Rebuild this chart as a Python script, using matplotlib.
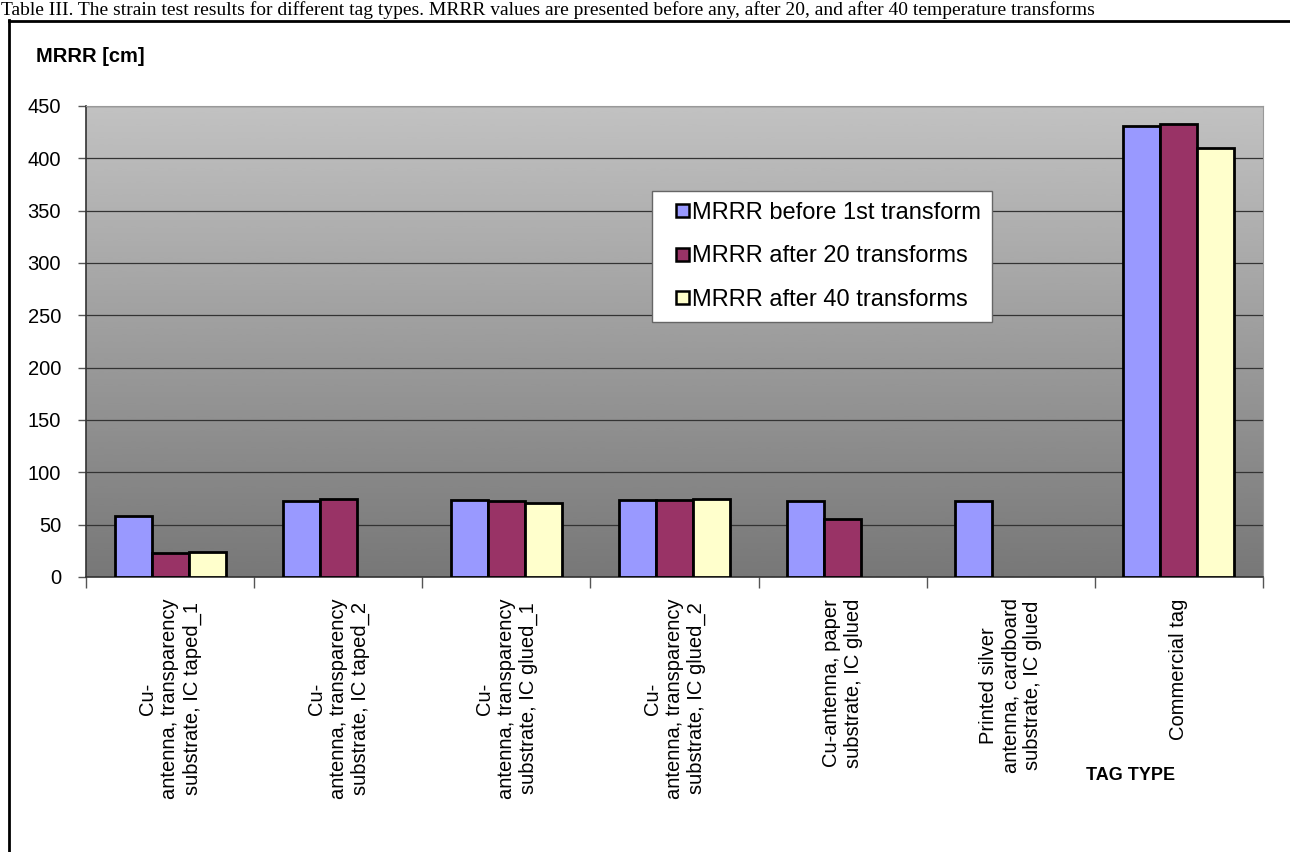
import numpy as np
import matplotlib
matplotlib.use("Agg")
import matplotlib.pyplot as plt
from matplotlib.lines import Line2D
from matplotlib.patches import Patch, Rectangle
from matplotlib.legend_handler import HandlerPatch

categories = [
    "Cu-\nantenna, transparency\nsubstrate, IC taped_1",
    "Cu-\nantenna, transparency\nsubstrate, IC taped_2",
    "Cu-\nantenna, transparency\nsubstrate, IC glued_1",
    "Cu-\nantenna, transparency\nsubstrate, IC glued_2",
    "Cu-antenna, paper\nsubstrate, IC glued",
    "Printed silver\nantenna, cardboard\nsubstrate, IC glued",
    "Commercial tag",
]
series_names = ["MRRR before 1st transform", "MRRR after 20 transforms", "MRRR after 40 transforms"]
before_1st = [58, 73, 74, 74, 73, 73, 431]
after_20 = [23, 75, 73, 74, 55, np.nan, 433]
after_40 = [24, np.nan, 71, 75, np.nan, np.nan, 410]
colors = ["#9999FF", "#993366", "#FFFFCC"]
yticks = [0, 50, 100, 150, 200, 250, 300, 350, 400, 450]

W, H = 1290, 852
fig = plt.figure(figsize=(W / 100, H / 100), dpi=100)
fig.patch.set_facecolor("white")

left, right, top, bottom = 86, 1263, 106, 577
ax = fig.add_axes([left / W, 1 - bottom / H, (right - left) / W, (bottom - top) / H])

grad = np.linspace(0.76, 0.47, 256).reshape(-1, 1)
ax.imshow(grad, extent=[0, 1, 0, 1], transform=ax.transAxes, cmap="gray",
          vmin=0, vmax=1, aspect="auto", zorder=0, interpolation="bicubic")

n = len(categories)
x = np.arange(n)
bw = 0.22
data = [before_1st, after_20, after_40]
for i, (vals, c) in enumerate(zip(data, colors)):
    ax.bar(x + (i - 1) * bw, vals, width=bw, color=c, edgecolor="black",
           linewidth=2, zorder=3)

ax.set_xlim(-0.5, n - 0.5)
ax.set_ylim(0, 450)
ax.set_yticks(yticks)
ax.set_yticklabels([str(v) for v in yticks], fontsize=14.5, family="Liberation Sans")
ax.yaxis.grid(True, color="#333333", linewidth=0.9, zorder=1)
ax.set_axisbelow(True)

ax.set_xticks(np.arange(n + 1) - 0.5)
ax.set_xticklabels([])
ax.tick_params(axis="x", length=8, width=1, color="#555555", direction="out")
ax.tick_params(axis="y", length=6, width=1, color="#555555", direction="out", pad=12)
for s in ["left", "bottom"]:
    ax.spines[s].set_color("#333333")
    ax.spines[s].set_linewidth(1.2)
for s in ["top", "right"]:
    ax.spines[s].set_color("#999999")
    ax.spines[s].set_linewidth(0.8)

for xi, lab in zip(x, categories):
    ax.text(xi, -0.045, lab, transform=ax.get_xaxis_transform(), rotation=90,
            ha="center", va="top", multialignment="center", fontsize=14.5,
            family="Liberation Sans")


def small_square(legend, orig_handle, xdescent, ydescent, width, height, fontsize):
    s = 0.55 * fontsize
    return Rectangle((-xdescent + width - s, -ydescent + (height - s) / 2), s, s)


handles = [Patch(facecolor=c, edgecolor="black", linewidth=1.8) for c in colors]
leg = fig.legend(handles, series_names, loc="upper left",
                 bbox_to_anchor=(652 / W, 1 - 191 / H), frameon=True, fancybox=False,
                 prop={"family": "Liberation Sans", "size": 17}, handlelength=1.1,
                 handleheight=0.7, handletextpad=0.15, labelspacing=0.92,
                 borderpad=0.45, borderaxespad=0,
                 handler_map={Patch: HandlerPatch(patch_func=small_square)})
leg.get_frame().set_edgecolor("#666666")
leg.get_frame().set_linewidth(1)
leg.get_frame().set_facecolor("white")
leg.get_frame().set_alpha(1)

fig.text(36 / W, 1 - 57 / H, "MRRR [cm]", fontsize=14.5, fontweight="bold",
         family="Liberation Sans", va="center", ha="left")
fig.text(1131 / W, 1 - 775 / H, "TAG TYPE", fontsize=13, fontweight="bold",
         family="Liberation Sans", va="center", ha="center")

fig.text(1 / W, 1 - 15 / H,
         "Table III. The strain test results for different tag types. MRRR values are presented before any, after 20, and after 40 temperature transforms",
         fontsize=14, family="Liberation Serif", va="baseline", ha="left")

fig.add_artist(Line2D([9 / W, 9 / W], [0, 1 - 20 / H], color="black", linewidth=2,
                      transform=fig.transFigure))
fig.add_artist(Line2D([9 / W, 1.01], [1 - 21 / H, 1 - 21 / H], color="black", linewidth=2,
                      transform=fig.transFigure))

fig.savefig("out.png", dpi=100)
